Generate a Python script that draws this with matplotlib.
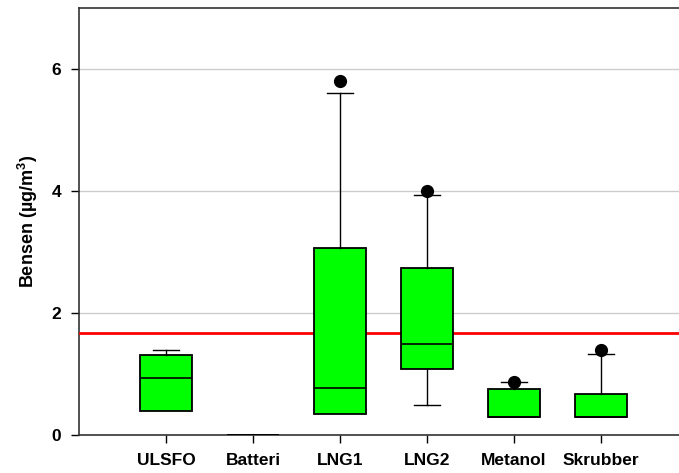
import matplotlib.pyplot as plt

plt.rcParams['font.family'] = ['Liberation Sans', 'DejaVu Sans']

# DATA
categorias = ["ULSFO", "Batteri", "LNG1", "LNG2", "Metanol", "Skrubber"]
q1 = [0.39, 0.0, 0.34, 1.09, 0.29, 0.29]
mediana = [0.93, 0.0, 0.77, 1.49, 0.29, 0.29]
q3 = [1.31, 0.0, 3.07, 2.73, 0.75, 0.67]
bigote_inf = [0.39, 0.0, 0.34, 0.49, 0.29, 0.29]
bigote_sup = [1.39, 0.0, 5.61, 3.94, 0.865, 1.33]
atipicos = [[], [], [5.80], [4.00], [0.87], [1.40]]
limite = 1.68

stats = []
for i in range(len(categorias)):
    stats.append({
        "label": categorias[i],
        "q1": q1[i],
        "med": mediana[i],
        "q3": q3[i],
        "whislo": bigote_inf[i],
        "whishi": bigote_sup[i],
        "fliers": atipicos[i],
    })

fig = plt.figure(figsize=(6.79, 4.73), dpi=100)
ax = fig.add_axes([0.1163, 0.0803, 0.897, 0.9027])

ax.axhline(limite, color="#ff0000", lw=2, zorder=3)

cajas = ax.bxp(
    stats,
    positions=range(1, len(categorias) + 1),
    widths=0.6,
    capwidths=0.3,
    patch_artist=True,
    boxprops=dict(facecolor="#00ff00", edgecolor="black", lw=1.3),
    medianprops=dict(color="black", lw=1.2),
    whiskerprops=dict(color="black", lw=1.0),
    capprops=dict(color="black", lw=1.0),
    flierprops=dict(marker="o", markerfacecolor="black",
                    markeredgecolor="black", markersize=8.5),
    zorder=4,
)

# sin bigote inferior cuando el minimo coincide con Q1
for i in range(len(categorias)):
    if bigote_inf[i] == q1[i] and q1[i] > 0:
        cajas["caps"][2 * i].set_visible(False)

ax.set_xlim(0, 7)
ax.set_ylim(0, 7)
ax.set_yticks([0, 2, 4, 6])
ax.grid(axis="y", color="#cccccc", lw=1)
ax.set_axisbelow(True)

ax.set_ylabel("Bensen (µg/m$^\\mathregular{3}$)", fontsize=13,
              fontweight="bold", labelpad=8)

for lbl in ax.get_xticklabels() + ax.get_yticklabels():
    lbl.set_fontweight("bold")
    lbl.set_fontsize(12.5)

ax.tick_params(axis="both", direction="out", length=6, width=1, pad=7)
for s in ax.spines.values():
    s.set_linewidth(1.2)
    s.set_color("#333333")

plt.savefig("out.png", dpi=100)
plt.close()
